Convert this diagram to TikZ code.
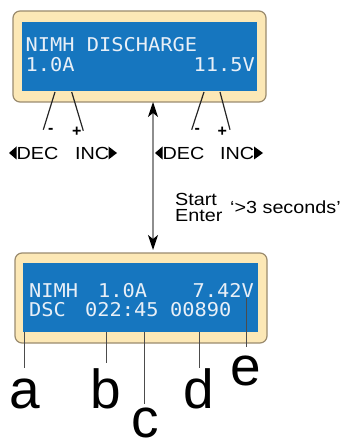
\documentclass[tikz,border=0pt]{standalone}
\usepackage{fontspec}
\setmainfont{Liberation Sans}
\newfontfamily\lblfont[FakeStretch=1.13]{Liberation Sans}
\newfontfamily\lcdfont[FakeStretch=1.07]{DejaVu Sans Mono}
\usetikzlibrary{arrows.meta}
\definecolor{lcdblue}{HTML}{1676BF}
\definecolor{frameFill}{HTML}{FCE8B6}
\definecolor{frameLine}{HTML}{9A8B6E}
\definecolor{lcdtext}{HTML}{E8EFF7}
\definecolor{arrgray}{HTML}{8E8E8E}
\begin{document}
\begin{tikzpicture}[x=1pt,y=-1pt,
  frame/.style={draw=frameLine, line width=1.2pt, fill=frameFill, rounded corners=7pt},
  screen/.style={fill=lcdblue},
  lcd/.style={inner sep=0pt, text=lcdtext, font=\lcdfont\fontsize{19}{19}\selectfont},
  lbl/.style={inner sep=0pt, font=\lblfont\fontsize{17.5}{18}\selectfont},
  sign/.style={inner sep=0pt, font=\bfseries\fontsize{16}{16}\selectfont},
  lead/.style={line width=1.2pt, draw=black!85},
  letter/.style={inner sep=0pt, anchor=base, font=\fontsize{55}{55}\selectfont},
  tick/.style={line width=0.9pt, draw=black!70},
  tri/.style={fill=black},
  dblarrow/.style={draw=arrgray, line width=1.2pt,
    {Stealth[length=15pt,width=10pt,inset=4pt,color=black]}-{Stealth[length=15pt,width=10pt,inset=4pt,color=black]}}
]
\useasboundingbox (0,0) rectangle (342,443);

% ---------- top LCD ----------
\draw[frame] (13,11) rectangle (266,102);
\fill[screen] (22,22) rectangle (257,91);
\node[lcd, anchor=base west] (t1) at (25.5,52) {NIMH DISCHARGE};
\node[lcd, anchor=base west] (t2) at (25.5,72) {1.0A};
\node[lcd, anchor=base east] (t3) at (255,72) {11.5V};

% leaders top
\coordinate (l1a) at (55,92);   \coordinate (l1b) at (43.3,129.7);
\coordinate (l2a) at (71.7,92); \coordinate (l2b) at (83.3,130.7);
\coordinate (l3a) at (204,92);  \coordinate (l3b) at (191.7,129.7);
\coordinate (l4a) at (220,92);  \coordinate (l4b) at (230,129.7);
\draw[lead] (l1a) -- (l1b);
\draw[lead] (l2a) -- (l2b);
\draw[lead] (l3a) -- (l3b);
\draw[lead] (l4a) -- (l4b);
\node[sign] (m1) at (50.7,130.5) {-};
\node[sign] (p1) at (76.7,132) {+};
\node[sign] (m2) at (197.3,130.5) {-};
\node[sign] (p2) at (222.3,132) {+};

% DEC / INC labels
\fill[tri] (16.5,146.5) -- (16.5,159.5) -- (9,153) -- cycle;
\node[lbl, anchor=base west] (dec1) at (16.5,159.5) {DEC};
\node[lbl, anchor=base west] (inc1) at (75,159.5) {INC};
\fill[tri] (108.5,146.5) -- (108.5,159.5) -- (117,153) -- cycle;
\fill[tri] (162.5,146.5) -- (162.5,159.5) -- (155,153) -- cycle;
\node[lbl, anchor=base west] (dec2) at (162.5,159.5) {DEC};
\node[lbl, anchor=base west] (inc2) at (220,159.5) {INC};
\fill[tri] (254,146.5) -- (254,159.5) -- (263,153) -- cycle;

% vertical arrow
\coordinate (atop) at (153,102);
\coordinate (abot) at (153,250);
\draw[dblarrow] (atop) -- (abot);

\node[lbl, anchor=base west] (start) at (175,205) {Start};
\node[lbl, anchor=base west] (enter) at (175,221) {Enter};
\node[lbl, anchor=base west] (secs) at (230,214) {‘>3 seconds’};

% ---------- bottom LCD ----------
\draw[frame] (15,253) rectangle (267,343);
\fill[screen] (23,263) rectangle (258,332);
\node[lcd, anchor=base west] (b1) at (29,297) {NIMH};
\node[lcd, anchor=base west] (b2) at (98,297) {1.0A};
\node[lcd, anchor=base east] (b3) at (254,297) {7.42V};
\node[lcd, anchor=base west] (b4) at (29,316) {DSC};
\node[lcd, anchor=base west] (b5) at (85,316) {022:45};
\node[lcd, anchor=base west] (b6) at (170,316) {00890};

% letters
\node[letter] (la) at (25,408) {a};
\node[letter] (lb) at (106,408) {b};
\node[letter] (lc) at (145,437) {c};
\node[letter] (ld) at (199,408) {d};
\node[letter] (le) at (246,385) {e};

\coordinate (ta) at (24.3,332);  \coordinate (ea) at (24.3,368);
\coordinate (tb) at (106,332);   \coordinate (eb) at (106,363);
\coordinate (tc) at (144.3,332); \coordinate (ec) at (144.3,404);
\coordinate (td) at (199.3,332); \coordinate (ed) at (199.3,368);
\coordinate (te) at (246,298);   \coordinate (ee) at (246,347);
\draw[tick] (ta) -- (ea);
\draw[tick] (tb) -- (eb);
\draw[tick] (tc) -- (ec);
\draw[tick] (td) -- (ed);
\draw[tick] (te) -- (ee);
\end{tikzpicture}
\end{document}
